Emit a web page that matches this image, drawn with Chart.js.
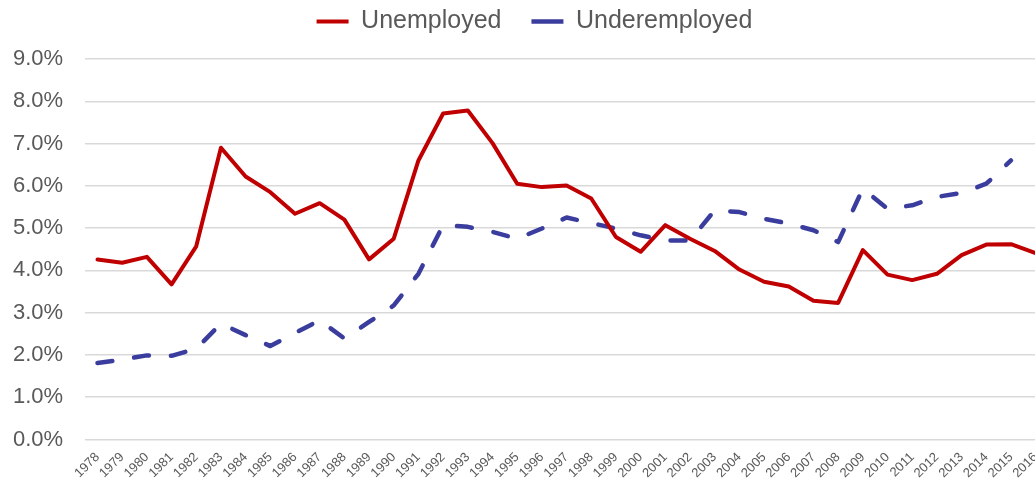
<!DOCTYPE html>
<html>
<head>
<meta charset="utf-8">
<script src="https://cdn.jsdelivr.net/npm/chart.js@4"></script>
<style>
  html, body { margin: 0; padding: 0; background: #fff; overflow: hidden; }
  #wrap { position: absolute; left: -22px; top: -21px; width: 1072px; height: 507px; }
</style>
</head>
<body>
<div id="wrap"><canvas id="myChart" width="1072" height="507"></canvas></div>
<script>
// data (percent)
let years = ["1978","1979","1980","1981","1982","1983","1984","1985","1986","1987",
  "1988","1989","1990","1991","1992","1993","1994","1995","1996","1997",
  "1998","1999","2000","2001","2002","2003","2004","2005","2006","2007",
  "2008","2009","2010","2011","2012","2013","2014","2015","2016"];
let unemployed = [4.26, 4.18, 4.32, 3.67, 4.57, 6.90, 6.22, 5.85, 5.34, 5.59,
  5.20, 4.26, 4.75, 6.60, 7.71, 7.78, 7.01, 6.05, 5.97, 6.01,
  5.70, 4.79, 4.44, 5.07, 4.75, 4.46, 4.02, 3.73, 3.62, 3.28,
  3.23, 4.48, 3.90, 3.77, 3.92, 4.36, 4.61, 4.62, 4.41];
let underemployed = [1.81, 1.89, 1.99, 1.98, 2.15, 2.74, 2.47, 2.21, 2.52, 2.82,
  2.39, 2.78, 3.17, 3.92, 5.07, 5.03, 4.91, 4.75, 4.99, 5.25,
  5.12, 4.99, 4.83, 4.71, 4.71, 5.42, 5.38, 5.22, 5.11, 4.95,
  4.67, 5.93, 5.46, 5.54, 5.74, 5.83, 6.05, 6.60, null];

// extra room under the legend, and nudge it a bit to the right
let legendGap = {
  id: "legendGap",
  beforeInit(chart) {
    let fit = chart.legend.fit;
    chart.legend.fit = function () {
      fit.call(this);
      this.height += 15;
    };
  },
  afterLayout(chart) {
    chart.legend.left += 15;
    chart.legend.right += 15;
  }
};

let ctx = document.getElementById("myChart").getContext("2d");
let myChart = new Chart(ctx, {
  type: "line",
  data: {
    labels: years,
    datasets: [
      {
        label: "Unemployed",
        data: unemployed,
        borderColor: "#C00000",
        backgroundColor: "#C00000",
        borderWidth: 4,
        borderJoinStyle: "round",
        borderCapStyle: "round",
        pointRadius: 0,
        tension: 0
      },
      {
        label: "Underemployed",
        data: underemployed,
        borderColor: "#3A3D9E",
        backgroundColor: "#3A3D9E",
        borderWidth: 4.5,
        borderDash: [15, 22],
        borderJoinStyle: "round",
        borderCapStyle: "round",
        pointRadius: 0,
        tension: 0
      }
    ]
  },
  options: {
    responsive: false,
    animation: false,
    layout: { padding: { left: 13, right: 2, top: 0, bottom: 3 } },
    plugins: {
      legend: {
        position: "top",
        labels: {
          usePointStyle: true,
          pointStyle: "line",
          pointStyleWidth: 32,
          padding: 30,
          color: "#595959",
          font: { family: "'Liberation Sans', Arial, sans-serif", size: 25 }
        }
      },
      tooltip: { enabled: false }
    },
    scales: {
      x: {
        offset: true,
        grid: { display: false },
        border: { display: false },
        ticks: {
          minRotation: 45,
          maxRotation: 45,
          autoSkip: false,
          padding: 2,
          color: "#595959",
          font: { family: "'Liberation Sans', Arial, sans-serif", size: 13 }
        }
      },
      y: {
        min: 0,
        max: 9,
        border: { display: false },
        grid: { color: "#d9d9d9", lineWidth: 1.5, drawTicks: false },
        ticks: {
          stepSize: 1,
          padding: 22,
          color: "#595959",
          font: { family: "'Liberation Sans', Arial, sans-serif", size: 22 },
          callback: (v) => v.toFixed(1) + "%"
        }
      }
    }
  },
  plugins: [legendGap]
});
</script>
</body>
</html>
